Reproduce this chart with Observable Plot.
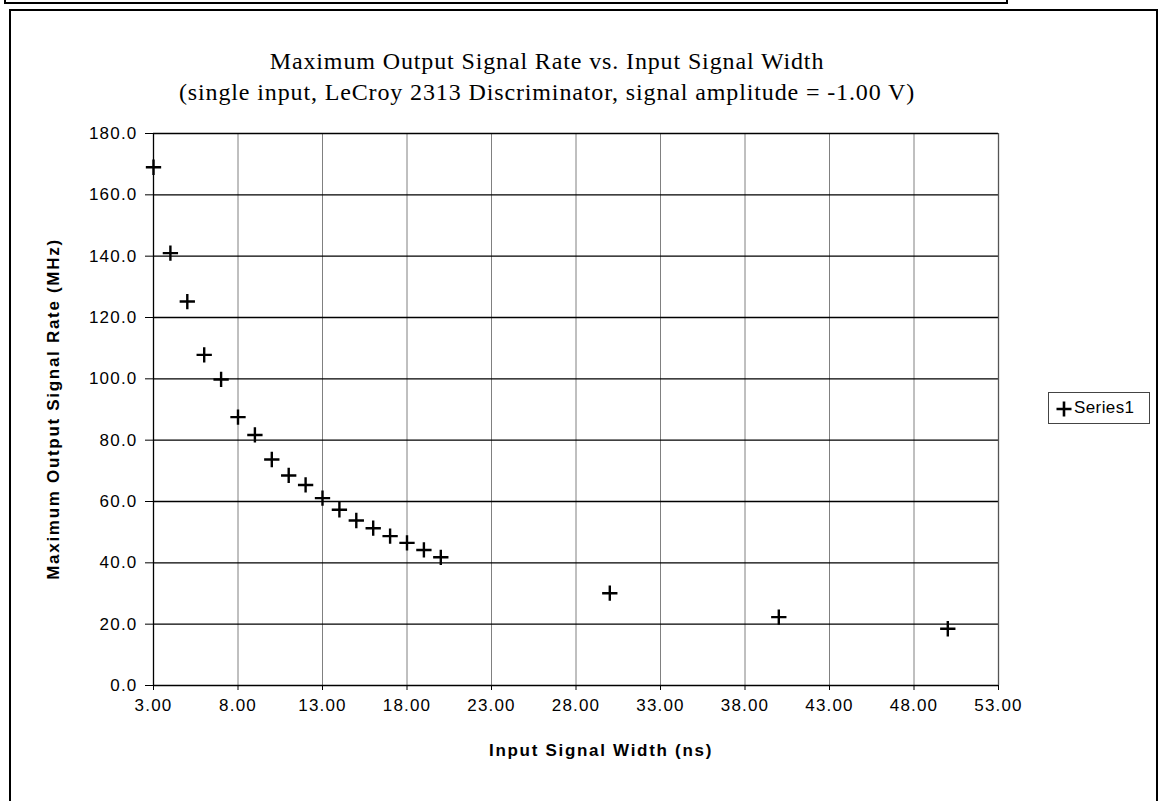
<!DOCTYPE html>
<html><head><meta charset="utf-8">
<script src="https://cdn.jsdelivr.net/npm/d3@7"></script>
<script src="https://cdn.jsdelivr.net/npm/@observablehq/plot@0.6"></script>
<style>
html,body{margin:0;padding:0;background:#fff;}
body{width:1162px;height:801px;overflow:hidden;position:relative;}
#chart{position:absolute;left:0;top:0;}
.abs{position:absolute;white-space:nowrap;line-height:1;color:#000;}
.title{font-family:"Liberation Serif","Times New Roman",serif;font-size:24px;letter-spacing:0.87px;transform:translateX(-50%);}
.axl{font-family:"Liberation Sans",Arial,sans-serif;font-weight:bold;font-size:17px;letter-spacing:1.7px;}
</style></head>
<body>
<div class="abs" style="left:4px;top:-20px;width:1000px;height:20px;border:2px solid #000;"></div>
<div class="abs" style="left:9px;top:9px;width:1145px;height:820px;border:2px solid #000;"></div>
<div id="chart"></div>
<div class="abs title" id="t1" style="left:547px;top:49px;"></div>
<div class="abs title" id="t2" style="left:547px;top:80px;"></div>
<div class="abs axl" id="xl" style="left:601px;top:742px;transform:translateX(-50%);"></div>
<div class="abs axl" id="yl" style="left:53px;top:409px;transform:translate(-50%,-50%) rotate(-90deg);"></div>
<div class="abs" id="legend" style="left:1048px;top:392px;width:100px;height:30px;border:1px solid #444;">
  <svg width="20" height="30" style="position:absolute;left:5px;top:0;"><path d="M2.5,16H17.5M10,8.5V23.5" stroke="#000" stroke-width="2.6"/></svg>
  <span id="lt" style="position:absolute;left:25px;top:6px;font-family:'Liberation Sans',Arial,sans-serif;font-size:17px;letter-spacing:0.4px;line-height:1;"></span>
</div>
<script>
const titleLines = ["Maximum Output Signal Rate vs. Input Signal Width",
  "(single input, LeCroy 2313 Discriminator, signal amplitude = -1.00 V)"];
const xLabel = "Input Signal Width (ns)";
const yLabel = "Maximum Output Signal Rate (MHz)";
const seriesName = "Series1";
const widths = [3,4,5,6,7,8,9,10,11,12,13,14,15,16,17,18,19,20,30,40,50];
const rates = [169.0,141.0,125.2,107.8,99.8,87.5,81.7,73.7,68.5,65.4,61.1,57.3,53.8,51.3,48.7,46.5,44.2,41.8,30.1,22.3,18.5];
const xTicks = [3,8,13,18,23,28,33,38,43,48,53];
const yTicks = [0,20,40,60,80,100,120,140,160,180];

document.getElementById("t1").textContent = titleLines[0];
document.getElementById("t2").textContent = titleLines[1];
document.getElementById("xl").textContent = xLabel;
document.getElementById("yl").textContent = yLabel;
document.getElementById("lt").textContent = seriesName;

const data = widths.map((w,i)=>({w, r: rates[i]}));

const chart = Plot.plot({
  width: 1162, height: 801,
  marginLeft: 153, marginRight: 164, marginTop: 133, marginBottom: 116,
  style: {fontFamily: '"Liberation Sans", Arial, sans-serif', fontSize: "17px", letterSpacing: "1.2px", color: "#000", background: "transparent", overflow: "visible"},
  x: {domain: [3, 53]},
  y: {domain: [0, 180]},
  marks: [
    Plot.gridX(xTicks.slice(1, -1), {stroke: "#808080", strokeOpacity: 1, strokeWidth: 1}),
    Plot.gridY(yTicks, {stroke: "#000", strokeOpacity: 1, strokeWidth: 1.3}),
    Plot.ruleX([xTicks[xTicks.length-1]], {stroke: "#555", strokeWidth: 1.3}),
    Plot.ruleX([xTicks[0]], {stroke: "#000", strokeWidth: 1.3}),
    Plot.axisX({ticks: xTicks, tickSize: 5, tickPadding: 8, tickFormat: d => d.toFixed(2), label: null, stroke: "#000"}),
    Plot.axisY({ticks: yTicks, tickSize: 8, tickPadding: 8, tickFormat: d => d.toFixed(1), label: null, stroke: "#000"}),
    Plot.dot(data, {x: "w", y: "r", symbol: "plus", r: 5, stroke: "#000", strokeWidth: 2.4})
  ]
});
document.getElementById("chart").appendChild(chart);
</script>
</body></html>
